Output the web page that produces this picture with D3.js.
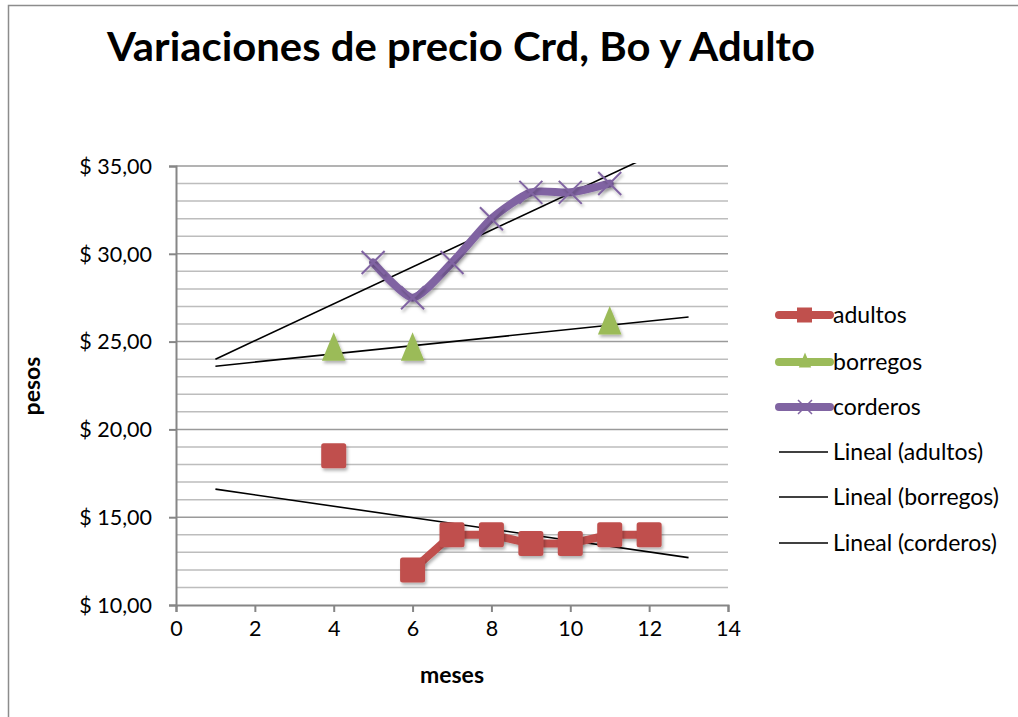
<!DOCTYPE html>
<html><head><meta charset="utf-8">
<script src="https://cdn.jsdelivr.net/npm/d3@7"></script>
<style>body{margin:0;background:#fff;}svg{display:block;font-family:Lato,"Liberation Sans",sans-serif;}</style>
</head><body><svg id="c" width="1018" height="717"></svg>
<script>
const title = "Variaciones de precio Crd, Bo y Adulto";
const xTicks = [0,2,4,6,8,10,12,14];
const yTicks = [10,15,20,25,30,35];
const months = [4,5,6,7,8,9,10,11,12];
const adultos = [18.5,null,12,14,14,13.5,13.5,14,14];
const borregosX = [4,6,11];
const borregos = [24.5,24.5,26];
const corderosX = [5,6,7,8,9,10,11];
const corderos = [29.5,27.5,29.5,32,33.5,33.5,34];
const trendX = [1,13];
const trendAdultos = [16.6,12.7];
const trendBorregos = [23.6,26.4];
const trendCorderos = [24.0,36.6];
const legendNames = ["adultos","borregos","corderos","Lineal (adultos)","Lineal (borregos)","Lineal (corderos)"];

const colors = {adultos:"#c0504d", borregos:"#9bbb59", corderos:"#8064a2"};
const svg = d3.select("#c");
const defs = svg.append("defs");
const f = defs.append("filter").attr("id","sh").attr("x","-50%").attr("y","-50%").attr("width","200%").attr("height","200%");
f.append("feDropShadow").attr("dx",1.5).attr("dy",2.5).attr("stdDeviation",1.8).attr("flood-color","#000").attr("flood-opacity",0.3);
defs.append("clipPath").attr("id","pc").append("rect").attr("x",176).attr("y",163).attr("width",552).attr("height",442);

// chart border
svg.append("rect").attr("x",8.5).attr("y",5.5).attr("width",1030).attr("height",730).attr("fill","none").attr("stroke","#8c8c8c").attr("stroke-width",1.5);

const x = d3.scaleLinear().domain([0,14]).range([176,728]);
const y = d3.scaleLinear().domain([10,35]).range([605,166]);

// gridlines
const grid = svg.append("g");
grid.selectAll("line").data(d3.range(11,36)).join("line")
  .attr("x1",176).attr("x2",728).attr("y1",d=>y(d)).attr("y2",d=>y(d))
  .attr("stroke",d=>d%5===0?"#9a9a9a":"#bdbdbd").attr("stroke-width",1.5);

// axes
const xa = svg.append("g").attr("transform","translate(0,605)")
  .call(d3.axisBottom(x).tickValues(xTicks).tickSize(7).tickPadding(9));
const ya = svg.append("g").attr("transform","translate(176,0)")
  .call(d3.axisLeft(y).tickValues(yTicks).tickSize(7).tickPadding(17).tickFormat(d=>"$ "+d3.format(".2f")(d).replace(".",",")));
[xa,ya].forEach(a=>{
  a.select(".domain").attr("stroke","#868686").attr("stroke-width",2);
  a.selectAll(".tick line").attr("stroke","#868686").attr("stroke-width",2);
  a.selectAll(".tick text").attr("font-size",21.5).attr("fill","#000").attr("font-family","Lato");
});
ya.selectAll(".tick text").attr("dy","0.34em");

// trendlines
const tg = svg.append("g").attr("clip-path","url(#pc)");
[trendAdultos,trendBorregos,trendCorderos].forEach(t=>{
  tg.append("line").attr("x1",x(trendX[0])).attr("x2",x(trendX[1])).attr("y1",y(t[0])).attr("y2",y(t[1]))
    .attr("stroke","#000").attr("stroke-width",1.6);
});

// adultos line
const adData = months.map((m,i)=>({x:m,y:adultos[i]}));
svg.append("path").datum(adData)
  .attr("d",d3.line().defined(d=>d.y!==null).x(d=>x(d.x)).y(d=>y(d.y)))
  .attr("fill","none").attr("stroke",colors.adultos).attr("stroke-width",8).attr("stroke-linejoin","round")
  .attr("filter","url(#sh)");
svg.append("g").attr("filter","url(#sh)").selectAll("rect").data(adData.filter(d=>d.y!==null)).join("rect")
  .attr("x",d=>x(d.x)-12.5).attr("y",d=>y(d.y)-12.5).attr("width",25).attr("height",25).attr("rx",2.5)
  .attr("fill",colors.adultos);

// borregos triangles
const triPath = (cx,cy,s)=>`M${cx},${cy-s*0.95}L${cx+s*0.62},${cy+s*0.55}L${cx-s*0.62},${cy+s*0.55}Z`;
svg.append("g").attr("filter","url(#sh)").selectAll("path").data(borregosX.map((m,i)=>({x:m,y:borregos[i]}))).join("path")
  .attr("d",d=>triPath(x(d.x),y(d.y),19)).attr("fill",colors.borregos);

// corderos
const coData = corderosX.map((m,i)=>({x:m,y:corderos[i]}));
svg.append("path").datum(coData)
  .attr("d",d3.line().curve(d3.curveCardinal.tension(0.35)).x(d=>x(d.x)).y(d=>y(d.y)))
  .attr("fill","none").attr("stroke",colors.corderos).attr("stroke-width",8).attr("stroke-linecap","round").attr("stroke-linejoin","round")
  .attr("filter","url(#sh)");
const xm = svg.append("g").attr("filter","url(#sh)");
coData.forEach(d=>{
  const cx=x(d.x), cy=y(d.y), s=11.5;
  xm.append("path").attr("d",`M${cx-s},${cy-s}L${cx+s},${cy+s}M${cx-s},${cy+s}L${cx+s},${cy-s}`)
    .attr("stroke",colors.corderos).attr("stroke-width",2);
});

// title
svg.append("text").attr("x",107).attr("y",61).attr("font-size",41).attr("font-weight","bold")
  .attr("textLength",708).attr("lengthAdjust","spacingAndGlyphs").text(title);
// axis titles
svg.append("text").attr("x",452).attr("y",683).attr("text-anchor","middle").attr("font-size",23).attr("font-weight","bold").text("meses");
svg.append("text").attr("transform","translate(40,386) rotate(-90)").attr("text-anchor","middle").attr("font-size",23).attr("font-weight","bold").text("pesos");

// legend
const lg = svg.append("g");
const ly = [315,362,407,452,497,543];
legendNames.forEach((n,i)=>{
  const g = lg.append("g").attr("transform",`translate(0,${ly[i]})`);
  if(i<3){
    const c = [colors.adultos,colors.borregos,colors.corderos][i];
    g.append("line").attr("x1",779).attr("x2",830).attr("y1",0).attr("y2",0).attr("stroke",c).attr("stroke-width",8).attr("stroke-linecap","round");
    if(i===0) g.append("rect").attr("x",797).attr("y",-7.5).attr("width",15).attr("height",15).attr("fill",c);
    if(i===1) g.append("path").attr("d",triPath(805,0,10)).attr("fill",c);
    if(i===2) g.append("path").attr("d","M798,-7L812,7M798,7L812,-7").attr("stroke",c).attr("stroke-width",1.5);
    g.append("text").attr("x",833).attr("y",0).attr("dy","0.34em").attr("font-size",23).text(n);
  } else {
    g.append("line").attr("x1",779).attr("x2",828).attr("y1",0).attr("y2",0).attr("stroke","#000").attr("stroke-width",1.6);
    g.append("text").attr("x",833).attr("y",0).attr("dy","0.34em").attr("font-size",23).text(n);
  }
});
</script></body></html>
